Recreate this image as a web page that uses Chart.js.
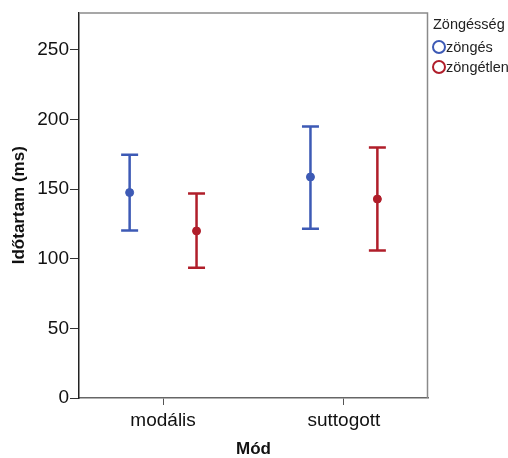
<!DOCTYPE html>
<html>
<head>
<meta charset="utf-8">
<script src="https://cdn.jsdelivr.net/npm/chart.js@4"></script>
<style>
  body { margin: 0; background: #fff; }
  #wrap { position: relative; width: 508px; height: 458px; }
  #legend { position: absolute; left: 432px; top: 16px; font-family: "Liberation Sans", Arial, sans-serif; font-size: 14.5px; color: #222; white-space: nowrap; }
  #legend .title { margin-left: 1px; margin-bottom: 5px; }
  #legend .row { display: flex; align-items: center; height: 20px; }
  #legend .dot { width: 10px; height: 10px; border-radius: 50%; border: 2.5px solid; margin-right: 0; }
</style>
</head>
<body>
<div id="wrap">
  <canvas id="chart" width="508" height="458"></canvas>
  <div id="legend"></div>
</div>
<script>
const modes = ['modális', 'suttogott'];
const groups = ['zöngés', 'zöngétlen'];
const colors = ['#3d5ab5', '#b01e2a'];

// mean and 95% CI per mode
const meanZonges = [147.6, 158.8];
const lowZonges = [120.4, 121.6];
const highZonges = [174.7, 195.0];
const meanZongetlen = [120.0, 142.9];
const lowZongetlen = [93.6, 105.9];
const highZongetlen = [146.9, 180.0];

const yTicks = [0, 50, 100, 150, 200, 250];

const means = [meanZonges, meanZongetlen];
const lows = [lowZonges, lowZongetlen];
const highs = [highZonges, highZongetlen];
const dodge = [-0.185, 0.185];

const datasets = groups.map((g, gi) => ({
  label: g,
  data: modes.map((m, mi) => ({ x: mi + 1 + dodge[gi], y: means[gi][mi], lo: lows[gi][mi], hi: highs[gi][mi] })),
  backgroundColor: colors[gi],
  borderColor: colors[gi],
  pointRadius: 4,
  pointBorderWidth: 1,
  showLine: false
}));

const errorBars = {
  id: 'errorBars',
  beforeDatasetsDraw(chart) {
    const { ctx, scales: { x, y } } = chart;
    ctx.save();
    ctx.lineWidth = 2.5;
    chart.data.datasets.forEach(ds => {
      ctx.strokeStyle = ds.borderColor;
      ds.data.forEach(p => {
        const px = x.getPixelForValue(p.x);
        const top = y.getPixelForValue(p.hi);
        const bot = y.getPixelForValue(p.lo);
        ctx.beginPath();
        ctx.moveTo(px, top); ctx.lineTo(px, bot);
        ctx.moveTo(px - 8.5, top); ctx.lineTo(px + 8.5, top);
        ctx.moveTo(px - 8.5, bot); ctx.lineTo(px + 8.5, bot);
        ctx.stroke();
      });
    });
    ctx.restore();
  }
};

const frame = {
  id: 'frame',
  afterDraw(chart) {
    const { ctx, chartArea: a } = chart;
    ctx.save();
    ctx.strokeStyle = '#8a8a8a';
    ctx.lineWidth = 1.5;
    ctx.beginPath();
    ctx.moveTo(a.left, a.top + 0.5);
    ctx.lineTo(a.right - 0.5, a.top + 0.5);
    ctx.lineTo(a.right - 0.5, a.bottom);
    ctx.stroke();
    ctx.restore();
  }
};

const font = { family: '"Liberation Sans", Arial, sans-serif' };

new Chart(document.getElementById('chart'), {
  type: 'scatter',
  data: { datasets },
  plugins: [errorBars, frame],
  options: {
    responsive: false,
    animation: false,
    layout: { padding: { left: 0, top: 10, right: 80, bottom: 0 } },
    plugins: { legend: { display: false }, tooltip: { enabled: false } },
    scales: {
      x: {
        type: 'linear',
        min: 0.535,
        max: 2.465,
        afterBuildTicks: s => { s.ticks = modes.map((m, i) => ({ value: i + 1 })); },
        afterFit: s => { s.height = 60; },
        ticks: {
          color: '#111',
          padding: 4,
          font: { ...font, size: 19 },
          callback: v => modes[Math.round(v) - 1] || ''
        },
        grid: { drawOnChartArea: false, tickLength: 7, color: '#555' },
        border: { color: '#666', width: 1.5 },
        title: {
          display: true, text: 'Mód', color: '#111',
          font: { ...font, size: 17, weight: 'bold', lineHeight: 1 },
          padding: { top: 0, bottom: 0 }
        }
      },
      y: {
        min: 0,
        max: 277,
        afterBuildTicks: s => { s.ticks = yTicks.map(v => ({ value: v })); },
        afterFit: s => { s.width = 79; },
        ticks: { color: '#111', padding: 1, font: { ...font, size: 19 } },
        grid: { drawOnChartArea: false, tickLength: 9, color: '#333' },
        border: { color: '#222', width: 1.5 },
        title: {
          display: true, text: 'Időtartam (ms)', color: '#111',
          font: { ...font, size: 17, weight: 'bold', lineHeight: 1 },
          padding: { top: 11, bottom: 0 }
        }
      }
    }
  }
});

// legend
const leg = document.getElementById('legend');
leg.innerHTML = '<div class="title">Zöngésség</div>' + groups.map((g, i) =>
  `<div class="row"><span class="dot" style="border-color:${colors[i]}"></span>${g}</div>`).join('');
</script>
</body>
</html>
